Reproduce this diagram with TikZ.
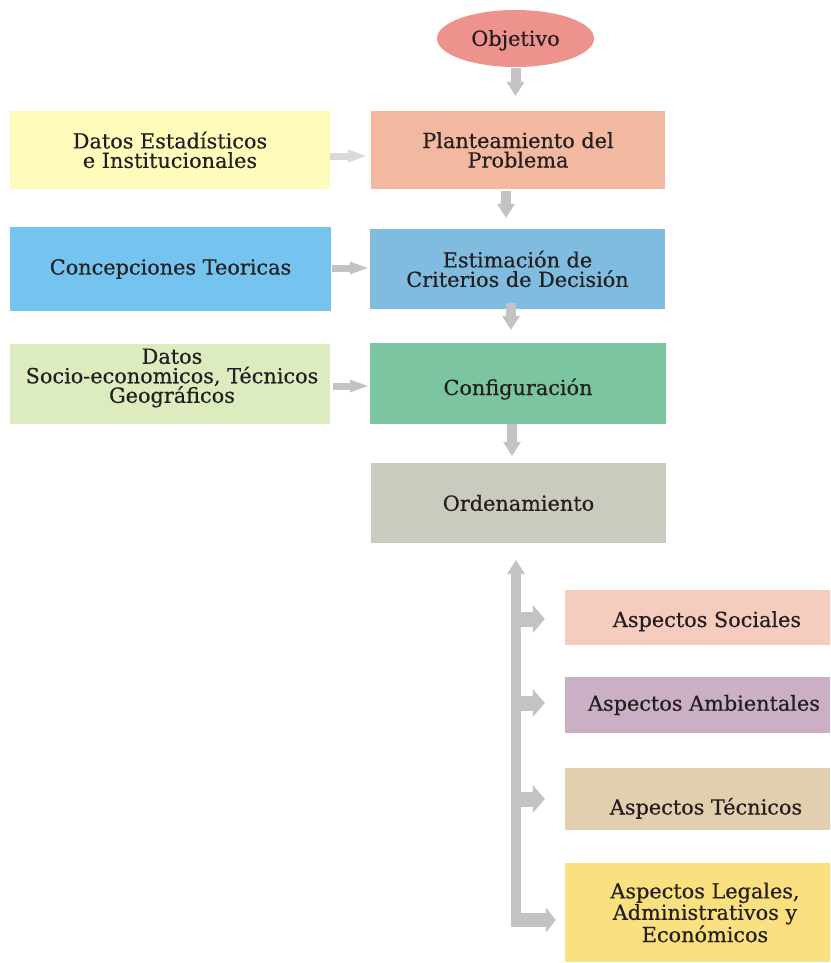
\documentclass[tikz,border=0pt]{standalone}
\usepackage{fontspec}
\setmainfont[FakeBold=0.4]{DejaVu Serif}
\usetikzlibrary{shapes.geometric,arrows.meta,calc}
\definecolor{txt}{HTML}{231F20}
\definecolor{agray}{HTML}{C3C3C3}
\definecolor{alight}{HTML}{D9D9D9}
\definecolor{cObj}{HTML}{EE928E}
\definecolor{cPlan}{HTML}{F3B9A0}
\definecolor{cDest}{HTML}{FFFBBB}
\definecolor{cConc}{HTML}{74C4EF}
\definecolor{cEst}{HTML}{80BCE0}
\definecolor{cSocio}{HTML}{DCECBF}
\definecolor{cConf}{HTML}{7BC5A0}
\definecolor{cOrd}{HTML}{CACABF}
\definecolor{cSoc}{HTML}{F6CCBF}
\definecolor{cAmb}{HTML}{CBAFC5}
\definecolor{cTec}{HTML}{E1CFAF}
\definecolor{cLeg}{HTML}{FAE07F}
\tikzset{
  box/.style={rectangle, inner sep=0pt, align=center, text=txt,
    font=\fontsize{20.8}{19.5}\selectfont},
  varrow/.style={draw=agray, line width=10pt,
    -{Triangle[width=18pt,length=14pt,line width=0pt]}},
  harrow/.style={draw=agray, line width=7pt,
    -{Triangle[width=13pt,length=18pt,line width=0pt]}},
  branch/.style={draw=agray, line width=15pt,
    -{Triangle[width=28pt,length=12pt,line width=0pt]}},
  lastbranch/.style={draw=agray, line width=14pt,
    -{Triangle[width=25pt,length=10pt,line width=0pt]}},
}
\begin{document}
\begin{tikzpicture}[x=1pt,y=-1pt]
\clip (0,0) rectangle (830,963);
\fill[white] (0,0) rectangle (830,963);

% central column
\node[box, ellipse, fill=cObj, minimum width=157pt, minimum height=57pt, text depth=1pt] (obj) at (515.5,38.5) {Objetivo};
\node[box, fill=cPlan, minimum width=294pt, minimum height=78pt] (plan) at (518,150) {Planteamiento del\\Problema};
\node[box, fill=cEst, minimum width=295pt, minimum height=80pt] (est) at (517.5,269) {Estimación de\\Criterios de Decisión};
\node[box, fill=cConf, minimum width=296pt, minimum height=81pt, text height=23pt, text depth=0pt] (conf) at (518,383.5) {Configuración};
\node[box, fill=cOrd, minimum width=295pt, minimum height=80pt] (ord) at (518.5,503) {Ordenamiento};

% left column
\node[box, fill=cDest, minimum width=320pt, minimum height=78pt] (dest) at (170,150) {Datos Estadísticos\\e Institucionales};
\node[box, fill=cConc, minimum width=321pt, minimum height=84pt] (conc) at (170.5,269) {Concepciones Teoricas};
\node[box, fill=cSocio, minimum width=320pt, minimum height=80pt] (socio) at (170,384) {};
\node[box, anchor=center] (sociotext) at (172,378) {Datos\\Socio-economicos, Técnicos\\Geográficos};

% right column
\node[box, fill=cSoc, minimum width=280pt, minimum height=55pt, text height=19pt, text depth=0pt] (soc) at (705,617.5) {\hspace*{4pt}Aspectos Sociales};
\node[box, fill=cAmb, minimum width=280pt, minimum height=56pt] (amb) at (705,705) {Aspectos Ambientales\hspace*{2pt}};
\node[box, fill=cTec, minimum width=280pt, minimum height=62pt, text height=31pt, text depth=0pt] (tec) at (705,799) {\hspace*{2pt}Aspectos Técnicos};
\node[box, fill=cLeg, minimum width=280pt, minimum height=99pt] (leg) at (705,912.5) {Aspectos Legales,\\Administrativos y\\Económicos};

% vertical flow arrows
\draw[varrow, shorten <=1pt, shorten >=15pt] (obj.south) -- (obj.south |- plan.north);
\draw[varrow, shorten <=2pt, shorten >=11pt] ([xshift=-12pt]plan.south) -- ([xshift=-12pt]plan.south |- est.north);
\draw[varrow, shorten <=-6pt, shorten >=13pt] ([xshift=-6.5pt]est.south) -- ([xshift=-6.5pt]est.south |- conf.north);
\draw[varrow, shorten >=7pt] ([xshift=-6pt]conf.south) -- ([xshift=-6pt]conf.south |- ord.north);

% horizontal input arrows
\draw[harrow, draw=alight, shorten >=5pt] ([yshift=-6pt]dest.east) -- ([yshift=-6pt]dest.east -| plan.west);
\draw[harrow, shorten <=1pt, shorten >=2pt] ([yshift=1pt]conc.east) -- ([yshift=1pt]conc.east -| est.west);
\draw[harrow, shorten <=3pt, shorten >=2pt] ([yshift=-2pt]socio.east) -- ([yshift=-2pt]socio.east -| conf.west);

% trunk and branches
\coordinate (tb) at (516,927);
\coordinate (corner) at (511,920);
\draw[varrow, shorten >=17pt] (tb) -- (tb |- ord.south);
\draw[branch, shorten >=20pt] ([yshift=-1.5pt]tb |- soc.west) -- ([yshift=-1.5pt]soc.west);
\draw[branch, shorten >=20pt] ([yshift=2pt]tb |- amb.west) -- ([yshift=2pt]amb.west);
\draw[branch, shorten >=20pt] (tb |- tec.west) -- (tec.west);
\draw[lastbranch, shorten >=9pt] (corner) -- (corner -| leg.west);
\end{tikzpicture}
\end{document}
